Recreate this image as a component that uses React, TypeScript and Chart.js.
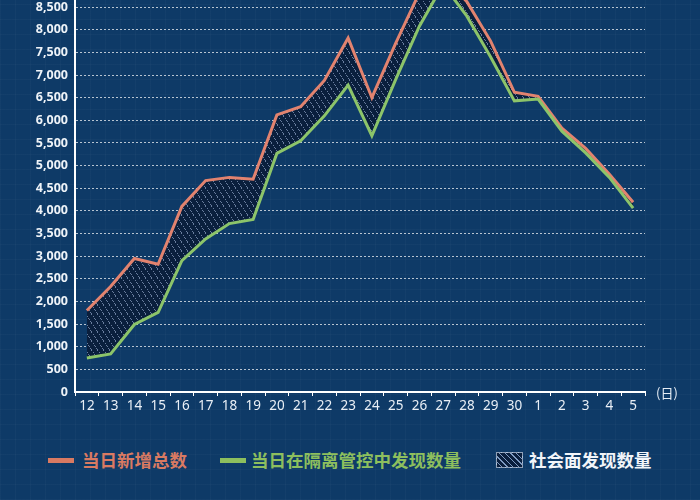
import { useEffect, useRef } from 'react';
import { Chart, registerables } from 'chart.js';

Chart.register(...registerables);

// days (Nov 12 .. Dec 5)
const days = ['12', '13', '14', '15', '16', '17', '18', '19', '20', '21', '22', '23', '24', '25', '26', '27', '28', '29', '30', '1', '2', '3', '4', '5'];
// 当日新增总数
const totalNew = [1800, 2330, 2950, 2820, 4100, 4670, 4740, 4700, 6120, 6300, 6880, 7820, 6500, 7700, 8820, 9200, 8620, 7750, 6620, 6530, 5830, 5380, 4810, 4190];
// 当日在隔离管控中发现数量
const inQuarantine = [750, 840, 1490, 1760, 2900, 3380, 3720, 3810, 5270, 5550, 6100, 6780, 5660, 6900, 8080, 9000, 8300, 7400, 6430, 6470, 5760, 5280, 4740, 4060];

const legendLabels = ['当日新增总数', '当日在隔离管控中发现数量', '社会面发现数量'];

const BG = '#0e3a67';
const RED = '#e2836f';
const GREEN = '#8cc46a';
const HATCH_BASE = '#0a1f3d';

function makeHatch(): CanvasPattern | string {
  // steep "\" dashed strokes, about 6px apart
  const c = document.createElement('canvas');
  c.width = 6;
  c.height = 9;
  const g = c.getContext('2d');
  if (!g) return HATCH_BASE;
  g.fillStyle = HATCH_BASE;
  g.fillRect(0, 0, 6, 9);
  g.fillStyle = 'rgba(200,220,255,0.5)';
  const pts = [[0, 0], [1, 1], [1, 2], [3, 4], [4, 6], [5, 7]];
  pts.forEach(([x, y]) => g.fillRect(x, y, 1, 1));
  return g.createPattern(c, 'repeat') || HATCH_BASE;
}

const dayUnit = {
  id: 'dayUnit',
  afterDraw(chart: any) {
    const { ctx, chartArea } = chart;
    ctx.save();
    ctx.fillStyle = '#e6edf5';
    ctx.font = '13px "Noto Sans CJK SC"';
    ctx.textAlign = 'center';
    ctx.textBaseline = 'middle';
    ctx.fillText('(日)', chartArea.right + 22, chartArea.bottom + 1);
    ctx.restore();
  },
};

export default function App() {
  const canvasRef = useRef<HTMLCanvasElement>(null);

  useEffect(() => {
    if (!canvasRef.current) return;
    const hatch = makeHatch();
    const chart = new Chart(canvasRef.current, {
      type: 'line',
      data: {
        labels: days,
        datasets: [
          {
            label: legendLabels[0],
            data: totalNew,
            borderColor: RED,
            borderWidth: 3,
            pointRadius: 0,
            tension: 0,
            order: 1,
            fill: { target: '+1', above: hatch, below: hatch },
          },
          {
            label: legendLabels[1],
            data: inQuarantine,
            borderColor: GREEN,
            borderWidth: 3,
            pointRadius: 0,
            tension: 0,
            order: 0,
            fill: false,
          },
        ],
      },
      options: {
        responsive: false,
        animation: false,
        layout: { padding: { top: 13, right: 55, left: 0, bottom: 0 } },
        plugins: {
          legend: { display: false },
          tooltip: { enabled: false },
          filler: { drawTime: 'beforeDatasetsDraw' },
        },
        scales: {
          x: {
            offset: true,
            afterFit: (s: any) => { s.height = 28; },
            grid: { display: true, drawOnChartArea: false, offset: true, tickLength: 4, color: '#ffffff' },
            border: { color: '#ffffff', width: 2 },
            ticks: { color: '#e9eff6', padding: 2, font: { size: 13.5, family: '"Noto Sans"' }, maxRotation: 0, autoSkip: false },
          },
          y: {
            min: 0,
            max: 9000,
            z: 1,
            afterFit: (s: any) => { s.width = 75; },
            grid: { color: 'rgba(255,255,255,0.7)', lineWidth: 1, drawTicks: false },
            border: { color: '#ffffff', width: 2, dash: [2, 2] },
            ticks: {
              stepSize: 500,
              padding: 7,
              color: '#eef3f8',
              font: { size: 12.5, weight: 'bold', family: '"Noto Sans"' },
              callback: (v: any) => Number(v).toLocaleString('en-US'),
            },
          },
        },
      },
      plugins: [dayUnit],
    });
    return () => chart.destroy();
  }, []);

  const textStyle = { position: 'absolute' as const, top: 449, fontSize: 17.5, fontWeight: 700, fontFamily: '"Noto Sans CJK SC"', lineHeight: '22px', whiteSpace: 'nowrap' as const };

  return (
    <div
      style={{
        position: 'fixed',
        left: 0,
        top: 0,
        width: 700,
        height: 500,
        overflow: 'hidden',
        backgroundColor: BG,
        backgroundImage:
          'repeating-linear-gradient(0deg, rgba(255,255,255,0.025) 0 1px, transparent 1px 15px), repeating-linear-gradient(90deg, rgba(255,255,255,0.025) 0 1px, transparent 1px 15px)',
      }}
    >
      <canvas ref={canvasRef} width={700} height={450} style={{ position: 'absolute', left: 0, top: -30 }} />
      <div style={{ position: 'absolute', left: 48, top: 458, width: 26, height: 5, background: '#d97a62' }} />
      <div style={{ ...textStyle, left: 82, color: '#d97a62' }}>{legendLabels[0]}</div>
      <div style={{ position: 'absolute', left: 220, top: 458, width: 26, height: 5, background: '#8dbf5e' }} />
      <div style={{ ...textStyle, left: 251, color: '#8dbf5e' }}>{legendLabels[1]}</div>
      <div
        style={{
          position: 'absolute',
          left: 496,
          top: 452,
          width: 25,
          height: 14,
          border: '1px solid rgba(200,215,235,0.7)',
          background: 'repeating-linear-gradient(45deg, #0a1f3d 0 3px, rgba(200,220,255,0.6) 3px 4px)',
        }}
      />
      <div style={{ ...textStyle, left: 529, color: '#f2f5f9' }}>{legendLabels[2]}</div>
    </div>
  );
}
